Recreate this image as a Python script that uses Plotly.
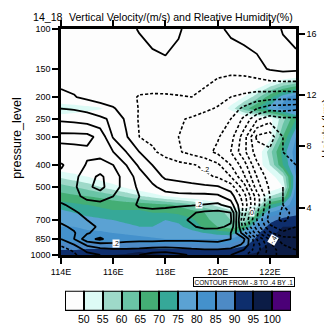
import math
import plotly.graph_objects as go

# ---------------- data ----------------
lons = [114.0, 114.5, 115.0, 115.5, 116.0, 116.5, 117.0, 117.5, 118.0, 118.5,
        119.0, 119.5, 120.0, 120.5, 121.0, 121.5, 122.0, 122.5, 123.0]
levels = [1000, 950, 900, 850, 800, 750, 700, 650, 600, 550, 500, 450, 400,
          350, 300, 250, 225, 200, 150, 100]

# relative humidity (%) rows follow `levels`
rh = [
    [94, 94, 94, 94, 95, 96, 100.3, 96, 95, 95, 95, 95, 95, 94, 95, 96, 98, 97, 96],
    [90, 90, 91, 91, 91, 91, 91, 91, 91, 91, 91, 91, 91, 91, 92, 94, 99, 99, 98],
    [86, 86, 86, 86, 86, 86, 86, 85, 86, 86, 86, 86, 85, 86, 89, 92, 96, 98, 98],
    [82, 83, 83, 83, 83, 83, 82, 81, 80, 80, 80, 80, 80, 80, 85, 91, 95, 97, 97],
    [81, 81, 81, 81, 80, 79, 78, 77, 77, 77, 77, 75, 73, 72, 79, 89, 94, 96, 96],
    [80, 80, 79, 78, 77, 76, 75, 75, 76, 76, 73, 69, 65, 62, 67, 84, 92, 95, 95],
    [79, 78, 77, 76, 75, 74, 73, 73, 75, 74, 71, 67, 62, 60, 56, 74, 88, 92, 93],
    [77, 75, 73, 72, 71, 71, 71, 70, 70, 69, 67, 65, 62, 58, 55, 64, 80, 85, 88],
    [72, 71, 70, 69, 68, 68, 68, 67, 66, 64, 61, 57, 53, 48, 45, 50, 70, 75, 85],
    [67, 66, 65, 64, 62, 59, 56, 53, 50, 48, 46, 44, 43, 42, 42, 44, 55, 60, 85],
    [62, 60, 58, 55, 52, 49, 46, 44, 42, 40, 39, 38, 38, 38, 39, 41, 45, 50, 82],
    [54, 52, 50, 47, 45, 43, 41, 39, 37, 36, 35, 35, 35, 36, 38, 42, 47, 55, 80],
    [45, 44, 43, 42, 40, 38, 36, 35, 34, 33, 33, 33, 34, 35, 38, 46, 55, 70, 82],
    [38, 38, 38, 37, 36, 35, 34, 33, 32, 32, 32, 32, 33, 34, 37, 45, 58, 72, 83],
    [40, 40, 39, 38, 37, 36, 35, 34, 33, 33, 33, 33, 34, 35, 37, 42, 48, 65, 80],
    [44, 43, 42, 41, 40, 39, 38, 37, 36, 36, 36, 37, 38, 40, 44, 46, 48, 58, 70],
    [57, 55, 53, 51, 46, 43, 40, 38, 37, 37, 38, 40, 44, 52, 62, 70, 77, 82, 83],
    [40, 40, 39, 38, 36, 35, 34, 34, 33, 33, 34, 36, 40, 45, 50, 58, 68, 78, 84],
    [30, 30, 29, 29, 28, 28, 27, 27, 26, 26, 26, 27, 28, 29, 30, 31, 32, 33, 34],
    [25, 25, 24, 24, 23, 23, 22, 22, 22, 21, 21, 21, 20, 20, 20, 20, 20, 20, 20],
]

# vertical velocity (m/s) rows follow `levels`
w = [
    [-0.2, -0.12, -0.03, 0.0, 0.02, 0.02, 0.0, -0.04, -0.05, -0.02, 0.01, 0.02, 0.02, 0.0, -0.08, -0.2, -0.35, -0.45, -0.48],
    [-0.15, -0.08, 0.03, 0.07, 0.08, 0.08, 0.07, 0.05, 0.04, 0.06, 0.08, 0.09, 0.09, 0.07, 0.0, -0.15, -0.35, -0.45, -0.5],
    [-0.08, 0.0, 0.12, 0.16, 0.18, 0.18, 0.17, 0.17, 0.16, 0.16, 0.16, 0.17, 0.18, 0.17, 0.08, -0.15, -0.38, -0.5, -0.55],
    [0.0, 0.1, 0.27, 0.32, 0.24, 0.22, 0.22, 0.22, 0.22, 0.22, 0.22, 0.22, 0.22, 0.2, 0.12, -0.2, -0.42, -0.55, -0.58],
    [0.04, 0.09, 0.19, 0.24, 0.23, 0.22, 0.22, 0.22, 0.22, 0.23, 0.24, 0.25, 0.24, 0.2, -0.05, -0.35, -0.58, -0.68, -0.65],
    [0.08, 0.12, 0.18, 0.21, 0.22, 0.22, 0.22, 0.23, 0.24, 0.26, 0.29, 0.32, 0.32, 0.28, -0.15, -0.45, -0.68, -0.75, -0.7],
    [0.12, 0.16, 0.2, 0.22, 0.23, 0.23, 0.23, 0.24, 0.25, 0.28, 0.31, 0.34, 0.35, 0.32, -0.2, -0.5, -0.75, -0.82, -0.76],
    [0.16, 0.19, 0.22, 0.24, 0.24, 0.23, 0.22, 0.22, 0.23, 0.25, 0.29, 0.32, 0.33, 0.3, -0.15, -0.48, -0.72, -0.82, -0.78],
    [0.19, 0.22, 0.26, 0.27, 0.26, 0.23, 0.19, 0.18, 0.18, 0.185, 0.19, 0.205, 0.22, 0.15, -0.12, -0.45, -0.7, -0.8, -0.78],
    [0.23, 0.27, 0.33, 0.35, 0.3, 0.24, 0.2, 0.16, 0.14, 0.13, 0.13, 0.13, 0.12, 0.05, -0.15, -0.45, -0.7, -0.8, -0.78],
    [0.24, 0.28, 0.38, 0.43, 0.34, 0.26, 0.18, 0.12, 0.06, 0.04, 0.03, 0.02, 0.01, -0.05, -0.25, -0.55, -0.72, -0.8, -0.78],
    [0.22, 0.27, 0.36, 0.42, 0.34, 0.26, 0.15, 0.06, -0.02, -0.03, -0.05, -0.08, -0.11, -0.2, -0.38, -0.6, -0.76, -0.78, -0.72],
    [0.19, 0.24, 0.31, 0.33, 0.3, 0.2, 0.08, 0.0, -0.04, -0.07, -0.09, -0.12, -0.18, -0.3, -0.45, -0.68, -0.8, -0.74, -0.7],
    [0.26, 0.27, 0.28, 0.27, 0.2, 0.1, 0.0, -0.08, -0.14, -0.19, -0.23, -0.27, -0.32, -0.4, -0.57, -0.75, -0.78, -0.7, -0.62],
    [0.33, 0.33, 0.33, 0.27, 0.09, 0.01, -0.1, -0.13, -0.17, -0.2, -0.23, -0.26, -0.29, -0.36, -0.55, -0.82, -0.85, -0.7, -0.62],
    [0.18, 0.17, 0.15, 0.12, 0.08, -0.02, -0.11, -0.14, -0.17, -0.19, -0.21, -0.24, -0.27, -0.3, -0.42, -0.58, -0.66, -0.62, -0.62],
    [0.1, 0.09, 0.07, 0.04, 0.01, -0.05, -0.105, -0.125, -0.14, -0.15, -0.155, -0.18, -0.21, -0.25, -0.32, -0.4, -0.46, -0.46, -0.48],
    [0.02, 0.005, -0.02, -0.04, -0.06, -0.08, -0.105, -0.11, -0.11, -0.105, -0.1, -0.12, -0.16, -0.2, -0.22, -0.24, -0.25, -0.26, -0.25],
    [-0.05, -0.05, -0.05, -0.05, -0.05, -0.05, -0.04, -0.03, -0.02, -0.03, -0.05, -0.06, -0.07, -0.07, -0.06, -0.03, 0.01, 0.03, 0.02],
    [-0.04, -0.04, -0.04, -0.04, -0.04, -0.02, 0.005, 0.03, 0.04, 0.01, -0.03, -0.03, -0.02, 0.02, 0.04, 0.05, 0.03, -0.005, -0.02],
]

rh_levels = [50, 55, 60, 65, 70, 75, 80, 85, 90, 95, 100]
rh_colors = ["#FDFDFD", "#DDFBF6", "#9ED9C9", "#6AC4A6", "#44AE75", "#36A898",
             "#5BA2D3", "#4491CC", "#4D8AC6", "#0E2E6D", "#0B1C46", "#4B0077"]

x_tick_vals = [114, 116, 118, 120, 122]
x_tick_text = ["114E", "116E", "118E", "120E", "122E"]
p_tick_vals = [1000, 850, 700, 500, 400, 300, 250, 200, 150, 100]
height_km_text = ["4", "8", "12", "16"]
height_km_pressure = [617, 329, 195, 105]

contour_labels = [  # (lon, pressure, text, angle)
    (116.1, 890, ".2", 0),
    (119.3, 600, ".2", 0),
    (119.5, 420, "-.2", 0),
    (121.3, 650, "0", 0),
    (122.1, 860, "-.4", -60),
]

# ---------------- figure ----------------
FONT = "Liberation Sans, Arial, Helvetica, sans-serif"
n = len(rh_colors)
cscale = []
for k, c in enumerate(rh_colors):
    lo = max(0.0, (k - 0.5) / (n - 1))
    hi = min(1.0, (k + 0.5) / (n - 1))
    cscale.append([lo, c])
    cscale.append([hi, c])

fig = go.Figure()

fig.add_trace(go.Contour(
    x=lons, y=levels, z=rh,
    contours=dict(start=rh_levels[0], end=rh_levels[-1],
                  size=rh_levels[1] - rh_levels[0],
                  coloring="fill", showlines=False),
    colorscale=cscale, showscale=False, line=dict(width=0, smoothing=0),
    hoverinfo="skip"))

fig.add_trace(go.Contour(
    x=lons, y=levels, z=w,
    contours=dict(start=-0.8, end=-0.1, size=0.1, coloring="none"),
    line=dict(color="black", width=1.6, dash="3px,2px", smoothing=0),
    showscale=False, hoverinfo="skip"))

fig.add_trace(go.Contour(
    x=lons, y=levels, z=w, yaxis="y2",
    contours=dict(start=0.0, end=0.4, size=0.1, coloring="none"),
    line=dict(color="black", width=1.8, smoothing=0),
    showscale=False, hoverinfo="skip"))

# label bar
fig.add_trace(go.Bar(
    x=list(range(n)), y=[1] * n, width=1, xaxis="x2", yaxis="y3",
    marker=dict(color=rh_colors, line=dict(color="black", width=2)),
    hoverinfo="skip", showlegend=False))

main_bottom = (312 - 254) / 292
fig.update_layout(
    width=332, height=329,
    margin=dict(l=53, r=44, t=20, b=17),
    paper_bgcolor="white", plot_bgcolor="white",
    showlegend=False, bargap=0,
    font=dict(family=FONT, color="black", size=9),
    xaxis=dict(domain=[0, 1], range=[114, 123], anchor="y",
               tickvals=x_tick_vals, ticktext=x_tick_text,
               ticks="outside", ticklen=6, tickwidth=1.5, tickcolor="black",
               showline=True, linewidth=2.5, linecolor="black", mirror="ticks",
               showgrid=False, zeroline=False, tickfont=dict(size=9)),
    yaxis=dict(domain=[main_bottom, 1], type="log", range=[3, 2], anchor="x",
               tickvals=p_tick_vals, ticktext=[str(v) for v in p_tick_vals],
               ticks="outside", ticklen=6, tickwidth=1.5, tickcolor="black",
               showline=True, linewidth=2.5, linecolor="black", mirror=True,
               showgrid=False, zeroline=False, tickfont=dict(size=9)),
    yaxis2=dict(overlaying="y", side="right", type="log", range=[3, 2], anchor="x",
                tickvals=height_km_pressure, ticktext=height_km_text,
                ticks="outside", ticklen=6, tickwidth=1.5, tickcolor="black",
                showline=True, linewidth=2.5, linecolor="black",
                showgrid=False, zeroline=False, tickfont=dict(size=9)),
    xaxis2=dict(domain=[4 / 235, 230 / 235], anchor="y3", range=[-0.5, n - 0.5],
                tickvals=[k + 0.5 for k in range(len(rh_levels))],
                ticktext=[str(v) for v in rh_levels], ticks="",
                showline=False, showgrid=False, zeroline=False,
                tickfont=dict(size=10.5)),
    yaxis3=dict(domain=[0, 21 / 292], anchor="x2", range=[0, 1], visible=False),
)

ann = []
for lon, p, txt, ang in contour_labels:
    ann.append(dict(x=lon, y=math.log10(p), xref="x", yref="y", text=txt,
                    showarrow=False, bgcolor="white", borderpad=0,
                    textangle=ang, font=dict(size=7, family=FONT)))
ann += [
    dict(x=-30 / 235, y=(312 - 8) / 292, xref="paper", yref="paper", text="14_18",
         showarrow=False, xanchor="left", yanchor="middle", font=dict(size=10.6)),
    dict(x=(173 - 53) / 235, y=(312 - 8) / 292, xref="paper", yref="paper",
         text="Vertical Velocity/(m/s) and Rleative Humidity(%)",
         showarrow=False, xanchor="center", yanchor="middle", font=dict(size=10.6)),
    dict(x=(9.5 - 53) / 235, y=(312 - 133) / 292, xref="paper", yref="paper",
         text="pressure_level", textangle=-90, showarrow=False,
         xanchor="center", yanchor="middle", font=dict(size=12.5)),
    dict(x=(318.5 - 53) / 235, y=(312 - 123) / 292, xref="paper", yref="paper",
         text="Height (km)", textangle=-90, showarrow=False,
         xanchor="center", yanchor="middle", font=dict(size=11.5)),
    dict(x=(287 - 53) / 235, y=(312 - 282) / 292, xref="paper", yref="paper",
         text="CONTOUR FROM -.8 TO .4 BY .1", showarrow=False,
         xanchor="right", yanchor="middle", bgcolor="white",
         bordercolor="black", borderwidth=1, borderpad=0.5,
         font=dict(size=6.5)),
]
fig.update_layout(annotations=ann)

fig.write_html("out.html")
